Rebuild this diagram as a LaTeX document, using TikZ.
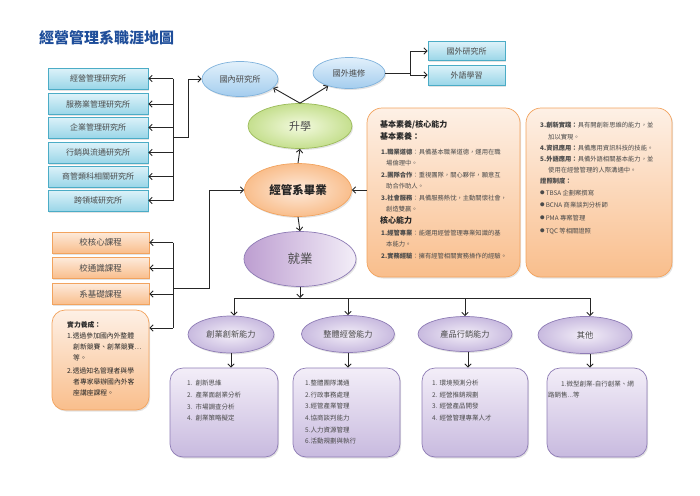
\documentclass[tikz,border=0pt]{standalone}
\usepackage{fontspec}
\setmainfont{Noto Sans CJK TC}
\usetikzlibrary{shapes.geometric,arrows.meta,shadows}
\definecolor{titleblue}{HTML}{1F4E9A}
\definecolor{txt}{HTML}{4A4A4A}
\definecolor{dtxt}{HTML}{262626}
\definecolor{bluebd}{HTML}{4BACC6}
\definecolor{bluetop}{HTML}{DDF2F9}
\definecolor{bluebot}{HTML}{9AD6E8}
\definecolor{orbd}{HTML}{F2A35E}
\definecolor{ortop}{HTML}{FDEADB}
\definecolor{orbot}{HTML}{F9BE8C}
\definecolor{pubd}{HTML}{8E7CB5}
\definecolor{putop}{HTML}{F3EEF8}
\definecolor{pubot}{HTML}{C8BADF}
\definecolor{grbd}{HTML}{9BBB59}
\definecolor{grin}{HTML}{F3FADF}
\definecolor{grout}{HTML}{C5DF8E}
\definecolor{elbd}{HTML}{7FB2DC}
\definecolor{eltop}{HTML}{E2F0FB}
\definecolor{elbot}{HTML}{A4CDEE}
\newcommand{\blt}{{\fontsize{4.5}{5}\selectfont\raisebox{0.6pt}{●}}\,}
\begin{document}
\begin{tikzpicture}[x=1pt,y=-1pt,
  arr/.style={-{Straight Barb[length=3.2pt,width=6.4pt,line width=0.9pt]}, line width=0.9pt, draw=black!85},
  ln/.style={line width=0.9pt, draw=black!85},
  shd/.style={drop shadow={opacity=0.22,shadow xshift=1.2pt,shadow yshift=-1.5pt}},
  bbox/.style={shd, rectangle, draw=bluebd, line width=0.7pt, top color=bluetop, bottom color=bluebot, minimum width=100pt, minimum height=21pt, inner sep=0pt, font=\fontsize{8}{9}\selectfont, text=txt},
  obox/.style={shd, rectangle, draw=orbd, line width=0.7pt, top color=ortop, bottom color=orbot, minimum width=97pt, minimum height=21pt, inner sep=0pt, font=\fontsize{8.5}{9}\selectfont, text=txt},
  bigbox/.style={shd, rectangle, rounded corners=15pt, draw=orbd, line width=0.7pt, top color=ortop!70!white, bottom color=orbot, inner sep=0pt},
  pbox/.style={shd, rectangle, rounded corners=13pt, draw=pubd, line width=0.7pt, top color=putop, bottom color=pubot, inner sep=0pt},
  bell/.style={shd, ellipse, draw=elbd, line width=0.7pt, top color=eltop, bottom color=elbot, inner sep=0pt, font=\fontsize{8.2}{9}\selectfont, text=txt},
  pell/.style={shd, ellipse, draw=pubd, line width=0.7pt, inner color=putop, outer color=pubot, inner sep=0pt, minimum width=90pt, minimum height=37pt, font=\fontsize{8.2}{9}\selectfont, text=txt},
  tl/.style={anchor=west, inner sep=0pt, text=txt, font=\fontsize{6.3}{7}\selectfont},
  tb/.style={anchor=west, inner sep=0pt, text=dtxt, font=\fontsize{8}{9}\bfseries},
  ts/.style={anchor=west, inner sep=0pt, text=dtxt, font=\fontsize{6.8}{7}\selectfont},
  tp/.style={anchor=west, inner sep=0pt, text=txt, font=\fontsize{6.5}{7}\selectfont}
]
\useasboundingbox (0,0) rectangle (700,495);

% title
\node[anchor=west, inner sep=0pt, font=\fontsize{15}{16}\bfseries, text=titleblue] (title) at (39,38) {經營管理系職涯地圖};

% left blue boxes
\node[bbox] (b1) at (98,78.5) {經營管理研究所};
\node[bbox] (b2) at (98,104) {服務業管理研究所};
\node[bbox] (b3) at (98,127.5) {企業管理研究所};
\node[bbox] (b4) at (98,152.5) {行銷與流通研究所};
\node[bbox] (b5) at (98,176.5) {商管類科相關研究所};
\node[bbox] (b6) at (98,200.5) {跨領域研究所};

% left orange boxes
\node[obox] (o1) at (100.5,242.5) {校核心課程};
\node[obox] (o2) at (100.5,268) {校通識課程};
\node[obox] (o3) at (100.5,294) {系基礎課程};
\node[bigbox, rounded corners=13pt, minimum width=97pt, minimum height=100pt] (skill) at (100.5,360) {};
\node[ts, font=\fontsize{6.8}{7}\bfseries] (sk1) at (67,325) {實力養成：};
\node[ts] (sk2) at (67,336) {1.透過參加國內外整體};
\node[ts] (sk3) at (73,347) {創新競賽、創業競賽…};
\node[ts] (sk4) at (73,358) {等。};
\node[ts] (sk5) at (67,371) {2.透過知名管理者與學};
\node[ts] (sk6) at (73,382) {者專家舉辦國內外客};
\node[ts] (sk7) at (73,393) {座講座課程。};

% upper ellipses
\node[bell, minimum width=76pt, minimum height=35pt] (dom) at (240,79) {國內研究所};
\node[bell, minimum width=72pt, minimum height=31pt] (abroad) at (349,73) {國外進修};
\node[bbox, minimum width=77pt, minimum height=19pt] (fgrad) at (466.5,51) {國外研究所};
\node[bbox, minimum width=77pt, minimum height=20pt] (flang) at (466.5,75) {外語學習};

% center column
\node[shd, ellipse, draw=grbd, line width=0.7pt, inner color=grin, outer color=grout, minimum width=104pt, minimum height=45pt, inner sep=0pt, font=\fontsize{11}{12}\selectfont, text=txt] (study) at (300,126) {升學};
\node[shd, ellipse, draw=orbd, line width=0.7pt, inner color=ortop, outer color=orbot, minimum width=107pt, minimum height=53pt, inner sep=0pt, font=\fontsize{11.5}{12}\bfseries, text=dtxt] (grad) at (298,190) {經管系畢業};
\node[shd, ellipse, draw=pubd, line width=0.7pt, left color=pubot!85!violet, right color=putop, minimum width=112pt, minimum height=55pt, inner sep=0pt, font=\fontsize{12.5}{13}\selectfont, text=txt] (job) at (300,259) {就業};

% big orange text boxes
\node[bigbox, minimum width=153pt, minimum height=169pt] (core) at (443.5,192.5) {};
\node[tb] (c1) at (380,125) {基本素養/核心能力};
\node[tb] (c2) at (380,136) {基本素養：};
\node[tl] (c3) at (381,152) {\textbf{1.職業道德}：具備基本職業道德，運用在職};
\node[tl] (c4) at (386,163) {場倫理中。};
\node[tl] (c5) at (381,175) {\textbf{2.團隊合作}：重視團隊，關心夥伴，願意互};
\node[tl] (c6) at (386,186) {助合作助人。};
\node[tl] (c7) at (381,198) {\textbf{3.社會服務}：具備服務熱忱，主動關懷社會，};
\node[tl] (c8) at (386,209) {創造雙贏。};
\node[tb] (c9) at (380,220) {核心能力};
\node[tl] (c10) at (381,233) {\textbf{1.經管專業}：能運用經營管理專業知識的基};
\node[tl] (c11) at (386,244) {本能力。};
\node[tl] (c12) at (381,256) {\textbf{2.實務經驗}：擁有經管相關實務操作的經驗。};

\node[bigbox, minimum width=146pt, minimum height=169pt] (cert) at (599,192.5) {};
\node[tl] (d1) at (540,125) {\textbf{3.創新實踐：}具有開創新思維的能力，並};
\node[tl] (d2) at (548,137) {加以實現。};
\node[tl] (d3) at (540,148) {\textbf{4.資訊應用：}具備應用資訊科技的技能。};
\node[tl] (d4) at (540,159) {\textbf{5.外語應用：}具備外語相關基本能力，並};
\node[tl] (d5) at (548,170) {使用在經營管理的人際溝通中。};
\node[tl] (d6) at (540,181) {\textbf{證照制度：}};
\node[tl] (d7) at (540,193) {\blt TBSA 企劃案撰寫};
\node[tl] (d8) at (540,205) {\blt BCNA 商業談判分析師};
\node[tl] (d9) at (540,218) {\blt PMA 專案管理};
\node[tl] (d10) at (540,231) {\blt TQC 等相關證照};

% level-2 ellipses
\node[pell, minimum width=86pt] (e1) at (231,334.5) {創業創新能力};
\node[pell, minimum width=93pt] (e2) at (348,334) {整體經營能力};
\node[pell, minimum width=94pt, minimum height=35pt] (e3) at (465,334) {產品行銷能力};
\node[pell, minimum width=94pt] (e4) at (585,335) {其他};

% bottom purple boxes
\node[pbox, minimum width=108pt, minimum height=89pt] (pa) at (224,412.5) {};
\node[pbox, minimum width=107pt, minimum height=89pt] (pb) at (346.5,412.5) {};
\node[pbox, minimum width=106pt, minimum height=89pt] (pc) at (475,412.5) {};
\node[pbox, minimum width=100pt, minimum height=89pt] (pd) at (597,412.5) {};

\node[tp] (a1) at (187,383) {1.\ \ 創新思維};
\node[tp] (a2) at (187,395) {2.\ \ 產業面創業分析};
\node[tp] (a3) at (187,407) {3.\ \ 市場調查分析};
\node[tp] (a4) at (187,418) {4.\ \ 創業策略擬定};

\node[tp] (bb1) at (305,383) {1.整體團隊溝通};
\node[tp] (bb2) at (305,395) {2.行政事務處理};
\node[tp] (bb3) at (305,406) {3.經管產業管理};
\node[tp] (bb4) at (305,418) {4.協商談判能力};
\node[tp] (bb5) at (305,430) {5.人力資源管理};
\node[tp] (bb6) at (305,441) {6.活動規劃與執行};

\node[tp] (cc1) at (432,383) {1. 環境預測分析};
\node[tp] (cc2) at (432,395) {2. 經營推銷規劃};
\node[tp] (cc3) at (432,406) {3. 經營產品開發};
\node[tp] (cc4) at (432,418) {4. 經營管理專業人才};

\node[tp] (dd1) at (561,384) {1.微型創業-自行創業、網};
\node[tp] (dd2) at (548,395) {路銷售...等};

% ---------- connectors ----------
% blue bus
\coordinate (bbus) at (173,0);
\coordinate (bj) at (173,137);
\draw[ln] (b1.east -| bbus) -- (b6.east -| bbus);
\foreach \n in {b1,b2,b3,b4,b5,b6} \draw[arr] (\n.east -| bbus) -- (\n.east);
\draw[arr] (bj) -- ++(15,0) |- (dom.west);

% orange bus
\coordinate (obus) at (173,0);
\coordinate (skp) at (173,328);
\coordinate (oj) at (173,288);
\draw[ln] (o1.east -| obus) -- (skp);
\foreach \n in {o1,o2,o3} \draw[arr] (\n.east -| obus) -- (\n.east);
\draw[arr] (skp) -- (skp -| skill.east);
\draw[arr] (oj) -- ++(36,0) |- (grad.west);

% center
\draw[arr] (study.north) -- (dom.-15);
\draw[arr] (study.north) -- (abroad.212);
\draw[arr] (abroad.east) -- ++(25,0) |- (fgrad.west);
\draw[arr] (abroad.east) ++(25,0) |- (flang.west);
\draw[arr] (grad.north) -- (study.south);
\draw[arr] (grad.south) -- (job.north);
\draw[arr] (core.west |- grad.east) -- (grad.east);

% employment tree
\coordinate (hl) at (0,298);
\draw[arr] (job.south) -- (job.south |- hl);
\draw[ln] ([xshift=3pt]e1.north |- hl) -- ([xshift=5pt]e4.north |- hl);
\draw[arr] ([xshift=3pt]e1.north |- hl) -- ([xshift=3pt]e1.north);
\draw[arr] (e2.north |- hl) -- (e2.north);
\draw[arr] (e3.north |- hl) -- (e3.north);
\draw[arr] ([xshift=5pt]e4.north |- hl) -- ([xshift=5pt]e4.north);
\draw[arr] (e1.south) -- (e1.south |- pa.north);
\draw[arr] (e2.south) -- (e2.south |- pb.north);
\draw[arr] ([xshift=3pt]e3.south) -- ([xshift=3pt]e3.south |- pc.north);
\draw[arr] ([xshift=5pt]e4.south) -- ([xshift=5pt]e4.south |- pd.north);
\end{tikzpicture}
\end{document}
